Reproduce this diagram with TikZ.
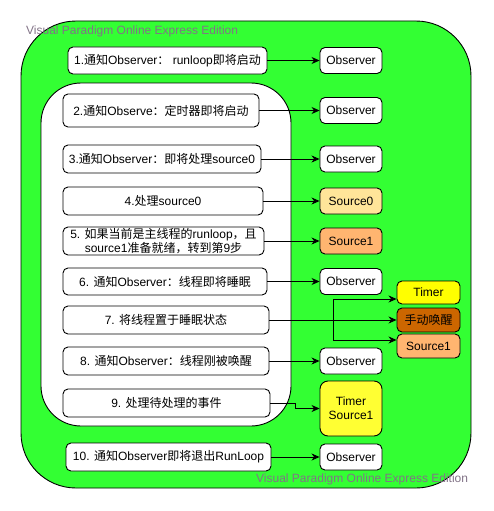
\documentclass[tikz,border=0pt]{standalone}
\usepackage{fontspec}
\setmainfont{Liberation Sans}
\newfontfamily\cjk{Noto Sans CJK SC}
\usetikzlibrary{arrows.meta}
\definecolor{bggreen}{HTML}{33FF33}
\definecolor{srczero}{HTML}{FFE599}
\definecolor{srcone}{HTML}{FFB570}
\definecolor{wakec}{HTML}{CC6600}
\definecolor{timerc}{HTML}{FFFF00}
\definecolor{tsc}{HTML}{FFFF33}
\definecolor{wm}{RGB}{130,115,135}
\newcommand{\zh}[1]{{\cjk #1}}
\begin{document}
\begin{tikzpicture}[x=1pt,y=-1pt,
  every node/.style={font=\fontsize{12}{14}\selectfont, inner sep=0pt, align=center},
  stepbox/.style={draw=black, fill=white, rounded corners=5pt, line width=0.9pt},
  obsbox/.style={draw=black, fill=white, rounded corners=5pt, line width=0.9pt, minimum width=62pt, minimum height=26pt},
  arr/.style={-{Stealth[length=8pt,width=7pt,inset=2.5pt]}, line width=0.9pt},
  wmark/.style={text=wm, anchor=west}]
\useasboundingbox (0,0) rectangle (494,511);
% outer and inner frames
\node[draw=black, fill=bggreen, line width=0.9pt, rounded corners=55pt, minimum width=450pt, minimum height=467pt] (outer) at (246,254.5) {};
\node[draw=black, fill=white, line width=0.9pt, rounded corners=40pt, minimum width=250pt, minimum height=343pt] (inner) at (166,254.5) {};
\node[wmark] (wm1) at (26,31) {Visual Paradigm Online Express Edition};
\node[wmark] (wm2) at (256,479) {Visual Paradigm Online Express Edition};
% steps
\node[stepbox, minimum width=199pt, minimum height=27pt] (b1) at (167.5,60.5) {1.\zh{通知}Observer\zh{：} runloop\zh{即将启动}};
\node[stepbox, minimum width=196pt, minimum height=33pt] (b2) at (161,110.5) {2.\zh{通知}Observe\zh{：定时器即将启动}};
\node[stepbox, minimum width=198pt, minimum height=28pt] (b3) at (162,159) {3.\zh{通知}Observer\zh{：即将处理}source0};
\node[stepbox, minimum width=200pt, minimum height=28pt] (b4) at (163,201) {4.\zh{处理}source0};
\node[stepbox, minimum width=201pt, minimum height=28pt] (b5) at (163.5,241) {5. \zh{如果当前是主线程的}runloop\zh{，且}\\source1\zh{准备就绪，转到第}9\zh{步}};
\node[stepbox, minimum width=204pt, minimum height=27pt] (b6) at (165,281.5) {6. \zh{通知}Observer\zh{：线程即将睡眠}};
\node[stepbox, minimum width=206pt, minimum height=28pt] (b7) at (166,320) {7. \zh{将线程置于睡眠状态}};
\node[stepbox, minimum width=206pt, minimum height=28pt] (b8) at (166,361) {8. \zh{通知}Observer\zh{：线程刚被唤醒}};
\node[stepbox, minimum width=207pt, minimum height=28pt] (b9) at (166.5,403) {9. \zh{处理待处理的事件}};
\node[stepbox, minimum width=205pt, minimum height=28pt] (b10) at (168.5,457) {10. \zh{通知}Observer\zh{即将退出}RunLoop};
% targets
\node[obsbox] (o1) at (351,60.5) {Observer};
\node[obsbox] (o2) at (351,110.5) {Observer};
\node[obsbox] (o3) at (351,159) {Observer};
\node[obsbox, fill=srczero] (s0) at (351,201) {Source0};
\node[obsbox, fill=srcone] (s1) at (351,241) {Source1};
\node[obsbox] (o6) at (351,281.5) {Observer};
\node[obsbox] (o8) at (351,361) {Observer};
\node[obsbox, fill=tsc, rounded corners=8pt, minimum height=55pt] (ts) at (351,408.5) {Timer\\Source1};
\node[obsbox] (o10) at (351,457) {Observer};
\node[obsbox, fill=timerc, minimum width=63pt, minimum height=23pt] (timer) at (428.5,292.5) {Timer};
\node[obsbox, fill=wakec, minimum width=63pt, minimum height=24pt] (wake) at (428.5,320) {\zh{手动唤醒}};
\node[obsbox, fill=srcone, minimum width=63pt, minimum height=24pt] (src1r) at (428.5,346) {Source1};
% connectors
\draw[arr] (b1.east) -- (o1.west);
\draw[arr] (b2.east) -- (o2.west);
\draw[arr] (b3.east) -- (o3.west);
\draw[arr] (b4.east) -- (s0.west);
\draw[arr] (b5.east) -- (s1.west);
\draw[arr] (b6.east) -- (o6.west);
\draw[arr] (b7.east) -- (wake.west);
\coordinate (j) at (333,320);
\draw[arr] (j) |- ([yshift=-6.5pt]timer.west);
\draw[arr] (j) |- ([yshift=6pt]src1r.west);
\draw[arr] (b8.east) -- (o8.west);
\draw[arr] (b9.east) -- ++(25,0) |- (ts.west);
\draw[arr] (b10.east) -- (o10.west);
\end{tikzpicture}
\end{document}
